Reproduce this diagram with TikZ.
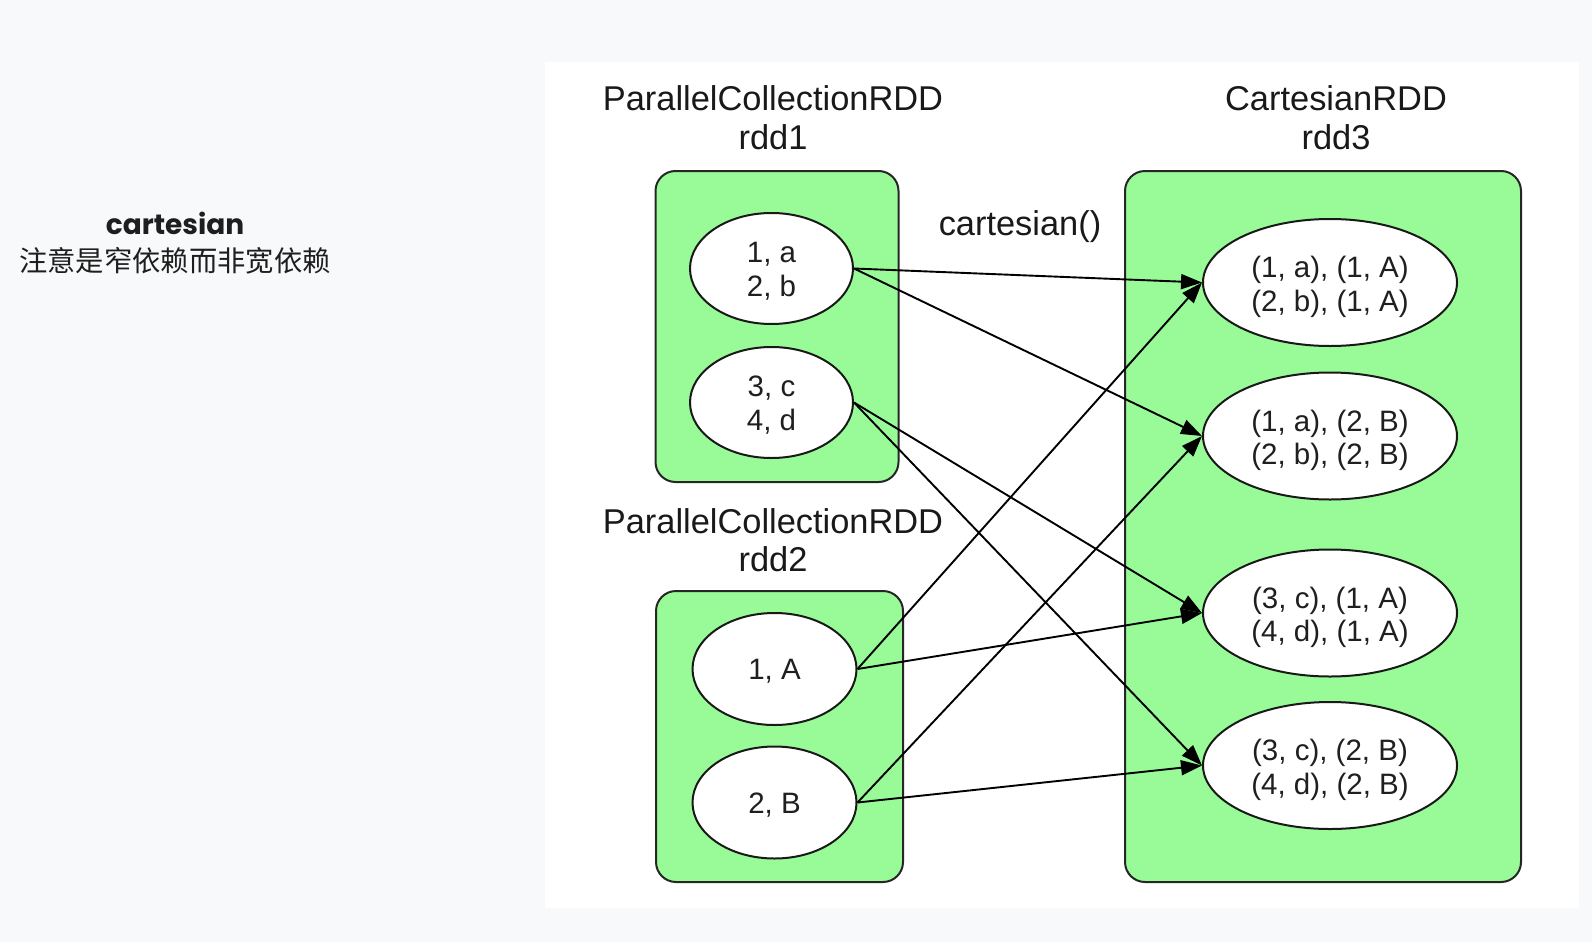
\documentclass[tikz,border=0pt]{standalone}
\usepackage{fontspec}
\setmainfont{Liberation Sans}
\newfontfamily\cjkfont{Noto Sans CJK SC}
\newfontfamily\handfont{Poppins}
\usetikzlibrary{shapes.geometric,arrows.meta}
\definecolor{pagebg}{HTML}{F8F9FA}
\definecolor{boxgreen}{HTML}{98FB98}
\definecolor{inkc}{HTML}{1E1E1E}
\newcommand{\lowL}{\rule{0pt}{25.5pt}}
\newcommand{\lowR}{\rule{0pt}{30pt}}
\tikzset{
  grp/.style={draw=black!85, line width=2pt, fill=boxgreen, rounded corners=20pt, inner sep=0pt, outer sep=0pt},
  part/.style={ellipse, draw=black!90, line width=2pt, fill=white, inner sep=0pt, align=center,
    font=\fontsize{29.5}{33.5}\selectfont, text=black!88},
  ttl/.style={align=center, font=\fontsize{34.4}{38.5}\selectfont, inner sep=0pt, text=black!90},
  flow/.style={-{Triangle[length=21pt,width=15pt]}, line width=1.9pt, black}
}
\begin{document}
\begin{tikzpicture}[x=1pt,y=-1pt]
\path[use as bounding box, fill=pagebg] (0,0) rectangle (1592,942);
\fill[white] (545,62) rectangle (1579,908);

% left note
\node[inner sep=0pt, font=\handfont\bfseries\fontsize{28}{30}\selectfont, text=inkc] (note1) at (175,223) {cartesian};
\node[inner sep=0pt, font=\cjkfont\fontsize{28.3}{30}\selectfont, text=inkc] (note2) at (175,261) {注意是窄依赖而非宽依赖};

% titles
\node[ttl] (t1) at (773,117.75) {ParallelCollectionRDD\\rdd1};
\node[ttl] (t2) at (773,540) {ParallelCollectionRDD\\rdd2};
\node[ttl] (t3) at (1336,117.75) {CartesianRDD\\rdd3};
\node[ttl] (op) at (1020,227) {cartesian()};

% groups
\node[grp, minimum width=243pt, minimum height=311pt] (g1) at (777,326.5) {};
\node[grp, minimum width=247pt, minimum height=291pt] (g2) at (779.5,736.5) {};
\node[grp, minimum width=396pt, minimum height=711pt] (g3) at (1323,526.5) {};

% partitions
\node[part, minimum width=163pt, minimum height=111pt] (a1) at (771.5,268.5) {\lowL 1, a\\2, b};
\node[part, minimum width=163pt, minimum height=111pt] (a2) at (771.5,402.5) {\lowL 3, c\\4, d};
\node[part, minimum width=164pt, minimum height=112pt] (b1) at (774.5,669) {\lowL 1, A};
\node[part, minimum width=164pt, minimum height=112pt] (b2) at (774.5,802.5) {\lowL 2, B};

\node[part, minimum width=254pt, minimum height=127pt] (c1) at (1330,282.5) {\lowR (1, a), (1, A)\\(2, b), (1, A)};
\node[part, minimum width=254pt, minimum height=127pt] (c2) at (1330,436) {\lowR (1, a), (2, B)\\(2, b), (2, B)};
\node[part, minimum width=254pt, minimum height=127pt] (c3) at (1330,613) {\lowR (3, c), (1, A)\\(4, d), (1, A)};
\node[part, minimum width=254pt, minimum height=127pt] (c4) at (1330,765.5) {\lowR (3, c), (2, B)\\(4, d), (2, B)};

% dependencies
\draw[flow] (a1.east) -- (c1.west);
\draw[flow] (a1.east) -- (c2.west);
\draw[flow] (a2.east) -- (c3.west);
\draw[flow] (a2.east) -- (c4.west);
\draw[flow] (b1.east) -- (c1.west);
\draw[flow] (b1.east) -- (c3.west);
\draw[flow] (b2.east) -- (c2.west);
\draw[flow] (b2.east) -- (c4.west);
\end{tikzpicture}
\end{document}
